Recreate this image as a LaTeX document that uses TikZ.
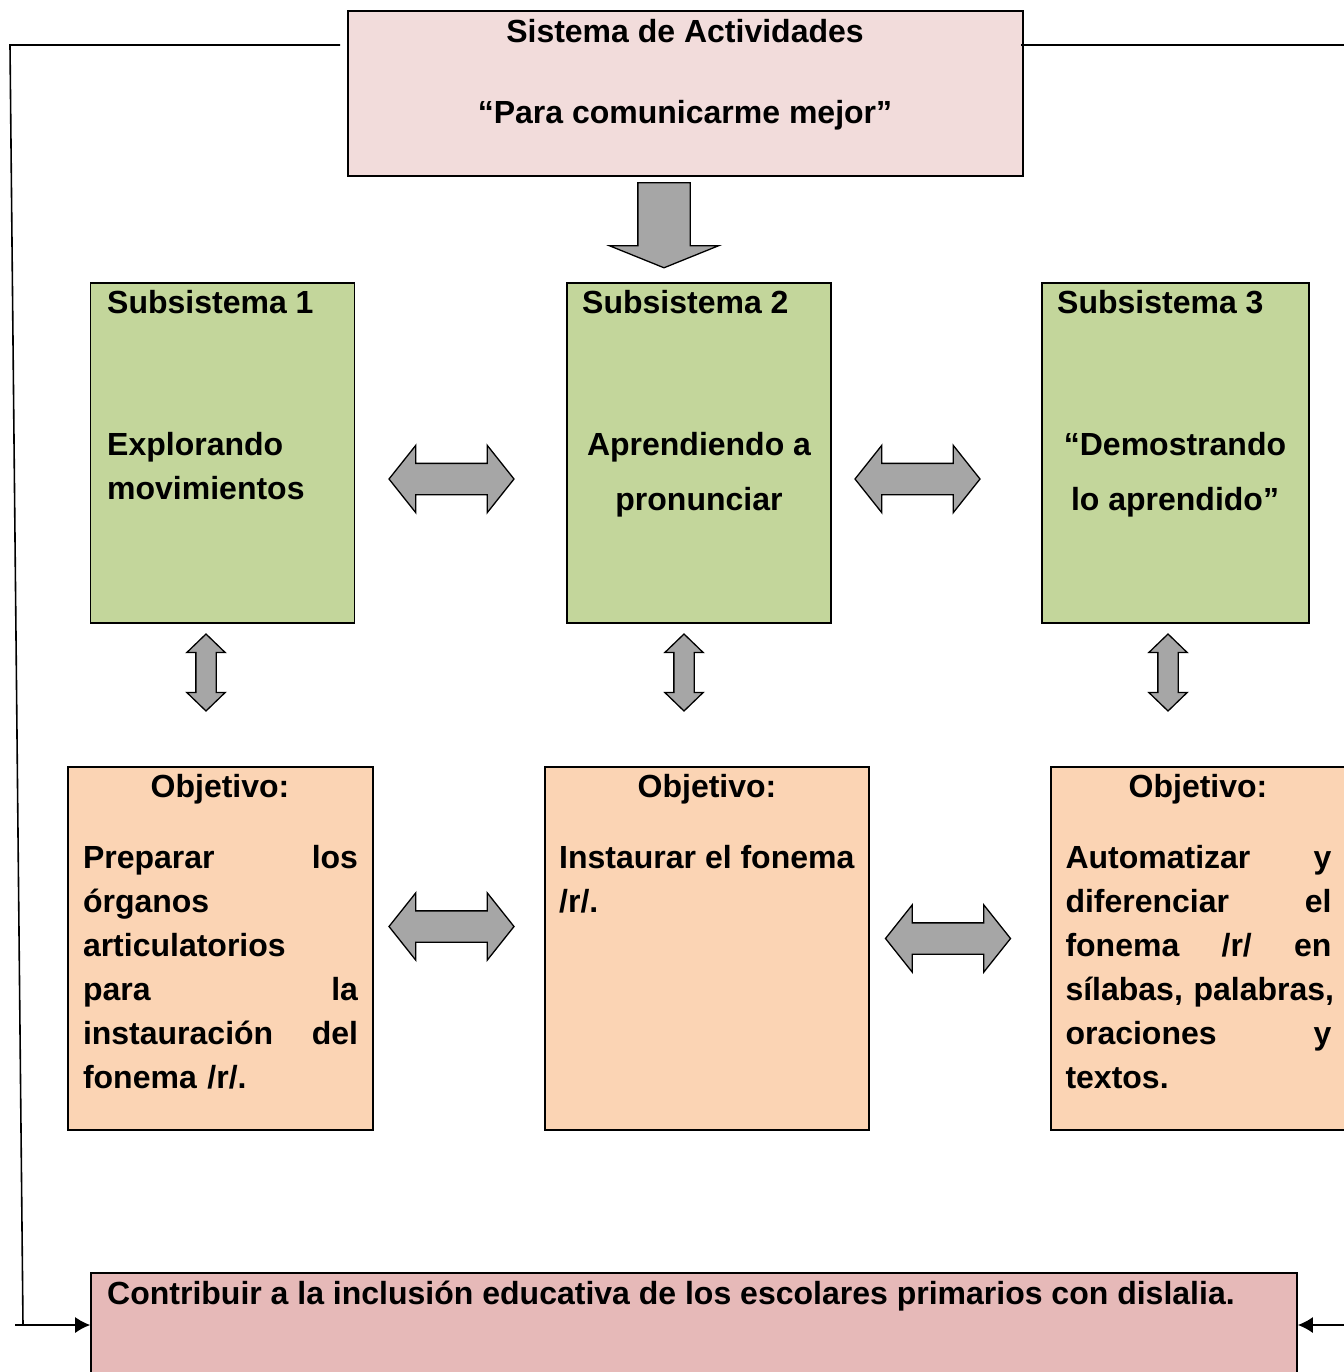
\documentclass[tikz,border=0pt]{standalone}
\usepackage{fontspec}
\setmainfont{Liberation Sans}
\usetikzlibrary{shapes.arrows,arrows.meta,positioning}

\definecolor{syspink}{HTML}{F2DCDB}
\definecolor{subgreen}{HTML}{C3D69B}
\definecolor{objorange}{HTML}{FBD4B4}
\definecolor{goalpink}{HTML}{E6B9B8}
\definecolor{arrowgray}{HTML}{A6A6A6}

\begin{document}
\begin{tikzpicture}[
    x=1pt, y=-1pt,
    font=\fontsize{32}{44}\selectfont\bfseries,
    box/.style={rectangle, draw, line width=1.6pt, inner sep=0pt},
    sysbox/.style={box, fill=syspink, minimum width=675pt, minimum height=165pt},
    subbox/.style={box, fill=subgreen, minimum width=264pt, minimum height=340pt},
    objbox/.style={box, fill=objorange, minimum height=363pt},
    goalbox/.style={box, fill=goalpink, minimum width=1206pt, minimum height=104pt},
    harrow/.style={double arrow, draw, fill=arrowgray, line width=1.3pt,
        inner xsep=0pt, inner ysep=15pt,
        minimum height=125pt, minimum width=66pt, double arrow head extend=18pt,
        double arrow head indent=0pt, double arrow tip angle=103},
    varrow/.style={double arrow, draw, fill=arrowgray, line width=1.3pt, rotate=90,
        inner xsep=0pt, inner ysep=9.5pt,
        minimum height=77pt, minimum width=37pt, double arrow head extend=9pt,
        double arrow head indent=0pt, double arrow tip angle=92},
    txt/.style={inner sep=0pt},
    para/.style={inner sep=0pt, align=left},
    outline/.style={line width=1.6pt},
    tip/.style={outline, -{Latex[length=15pt,width=16pt]}}
]
\useasboundingbox (0,0) rectangle (1343,1372);

% Activity system
\node[sysbox] (sys) at (685.5,93.5) {};
\node[txt] (systitle) at (685,31) {Sistema de Actividades};
\node[txt] (sysname) at (685,115) {“Para comunicarme mejor”};

\node[single arrow, draw, fill=arrowgray, line width=1.3pt, rotate=-90,
    inner xsep=0pt, inner ysep=25.5pt,
    minimum height=85pt, minimum width=108pt, single arrow head extend=28.5pt,
    single arrow head indent=0pt, single arrow tip angle=136] (down) at (664,220) {};

% Subsystems
\node[subbox] (sub1) at (222.5,453) {};
\node[subbox] (sub2) at (699,453) {};
\node[subbox, minimum width=267pt] (sub3) at (1175.5,453) {};

\node[txt, anchor=west] (sub1title) at (107,302) {Subsistema 1};
\node[txt, anchor=west] (sub2title) at (582,302) {Subsistema 2};
\node[txt, anchor=west] (sub3title) at (1057,302) {Subsistema 3};

\node[para, anchor=west] (sub1name) at (107,466) {Explorando\\movimientos};
\node[txt, align=center] (sub2name) at (699,475) {Aprendiendo a\\[11pt]pronunciar};
\node[txt, align=center] (sub3name) at (1175,475) {“Demostrando\\[11pt]lo aprendido”};

\node[harrow] (s12) at (451.5,479) {};
\node[harrow] (s23) at (917.5,479) {};

\node[varrow] (v1) at (206,672.5) {};
\node[varrow] (v2) at (684,672.5) {};
\node[varrow] (v3) at (1168,672.5) {};

% Objectives
\node[objbox, minimum width=305pt] (obj1) at (220.5,948.5) {};
\node[objbox, minimum width=324pt] (obj2) at (707,948.5) {};
\node[objbox, minimum width=295pt] (obj3) at (1198.5,948.5) {};

\node[txt] (obj1title) at (220,789) {Objetivo:};
\node[txt] (obj2title) at (707,789) {Objetivo:};
\node[txt] (obj3title) at (1198,789) {Objetivo:};

\node[para, text width=275pt] (obj1text) at (220.5,967) {Preparar\hfill los\\órganos\\articulatorios\\para\hfill la\\instauración\hfill del\\fonema /r/.};
\node[para, anchor=west] (obj2text) at (559,879) {Instaurar el fonema\\/r/.};
\node[para, text width=266pt] (obj3text) at (1198.5,967) {Automatizar\hfill y\\diferenciar\hfill el\\fonema\hfill /r/\hfill en\\\mbox{sílabas, palabras,}\\oraciones\hfill y\\textos.};

\node[harrow] (o12) at (451.5,926.5) {};
\node[harrow] (o23) at (948,938.5) {};

% Goal
\node[goalbox] (goal) at (694,1325) {};
\node[txt, anchor=west] (goaltext) at (107,1296) {Contribuir a la inclusión educativa de los escolares primarios con dislalia.};

% Feedback lines
\coordinate (lstart) at (340,45);
\coordinate (ltop) at (10,45);
\coordinate (lbottom) at (23,1325);
\coordinate (lfoot) at (15,1325);
\coordinate (rstart) at (1021,45);
\coordinate (rtop) at (1360,45);
\coordinate (rbottom) at (1360,1325);
\draw[outline] (lstart) -- (ltop) -- (lbottom);
\draw[tip] (lfoot) -- (goal.west);
\draw[outline] (rstart) -- (rtop) -- (rbottom);
\draw[tip] (rbottom) -- (goal.east);

\end{tikzpicture}
\end{document}
